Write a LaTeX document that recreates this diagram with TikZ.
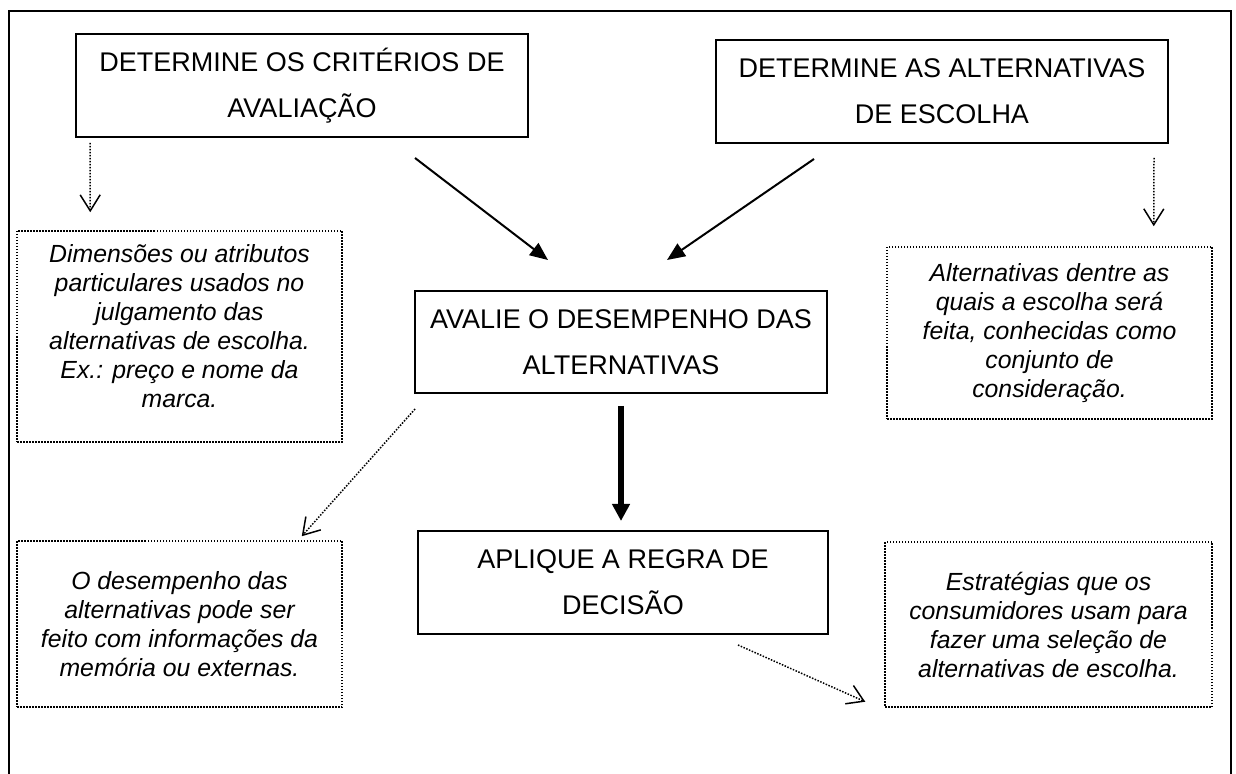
\documentclass[tikz,border=0pt]{standalone}
\usepackage{fontspec}
\setmainfont{Liberation Sans}
\usepackage{tikz}
\usetikzlibrary{arrows.meta,positioning}
\tikzstyle{passo} = [draw, line width=1pt, align=center, inner sep=0pt, font=\fontsize{13.5}{23}\selectfont]
\tikzstyle{nota} = [draw, line width=0.75pt, dash pattern=on 0.75pt off 0.75pt, align=center, inner sep=0pt, font=\fontsize{12.4}{14.5}\selectfont\itshape]
\tikzstyle{seta} = [line width=1pt, -{Triangle[length=9pt,width=7.5pt]}]
\tikzstyle{setagrossa} = [line width=2.6pt, -{Triangle[length=8.5pt,width=8.5pt]}]
\tikzstyle{pontilhada} = [line width=0.75pt, dash pattern=on 0.75pt off 0.75pt, -{Straight Barb[length=8pt,width=10pt,line width=0.75pt]}]

\begin{document}
\begin{tikzpicture}[x=0.5pt, y=-0.5pt]
\useasboundingbox (0,0) rectangle (1236,774);
% moldura (aberta embaixo)
\draw[line width=1pt] (9,774) -- (9,11) -- (1231,11) -- (1231,774);

% etapas
\node[passo, minimum width=226pt, minimum height=51.5pt] (criterios) at (302,85.5) {DETERMINE OS CRITÉRIOS DE\\AVALIAÇÃO};
\node[passo, minimum width=226pt, minimum height=51.5pt] (alternativas) at (942,91.5) {DETERMINE AS ALTERNATIVAS\\DE ESCOLHA};
\node[passo, minimum width=206pt, minimum height=51pt] (avalie) at (621,342) {AVALIE O DESEMPENHO DAS\\ALTERNATIVAS};
\node[passo, minimum width=205pt, minimum height=51.5pt] (regra) at (623,582.5) {APLIQUE A REGRA DE\\DECISÃO};

% notas
\node[nota, minimum width=162.5pt, minimum height=105.5pt] (notacrit) at (179.5,336.5) {Dimensões ou atributos\\particulares usados no\\julgamento das\\alternativas de escolha.\\Ex.: preço e nome da\\marca.\\[-4.5pt]\null};
\node[nota, minimum width=162.5pt, minimum height=83pt] (notaaval) at (179.5,624) {O desempenho das\\alternativas pode ser\\feito com informações da\\memória ou externas.};
\node[nota, minimum width=162.5pt, minimum height=86pt] (notaalt) at (1049.5,333) {Alternativas dentre as\\quais a escolha será\\feita, conhecidas como\\conjunto de\\consideração.};
\node[nota, minimum width=163.5pt, minimum height=82.5pt] (notaregra) at (1048.5,624.5) {Estratégias que os\\consumidores usam para\\fazer uma seleção de\\alternativas de escolha.};

% setas
\draw[seta] ([shift={(113,20)}]criterios.south) -- ([shift={(-73,-30)}]avalie.north);
\draw[seta] ([shift={(-128,15)}]alternativas.south) -- ([shift={(46,-30)}]avalie.north);
\draw[setagrossa] ([shift={(0,12)}]avalie.south) -- ([shift={(-2,-9)}]regra.north);

% setas pontilhadas
\draw[pontilhada] ([shift={(15,5)}]criterios.south west) -- ([shift={(74,-18)}]notacrit.north west);
\draw[pontilhada] ([shift={(-15,14)}]alternativas.south east) -- ([shift={(-59,-20)}]notaalt.north east);
\draw[pontilhada] ([shift={(1,15)}]avalie.south west) -- ([shift={(-41,-4)}]notaaval.north east);
\draw[pontilhada] ([shift={(115,10)}]regra.south) -- ([shift={(-19,-6)}]notaregra.south west);
\end{tikzpicture}
\end{document}
